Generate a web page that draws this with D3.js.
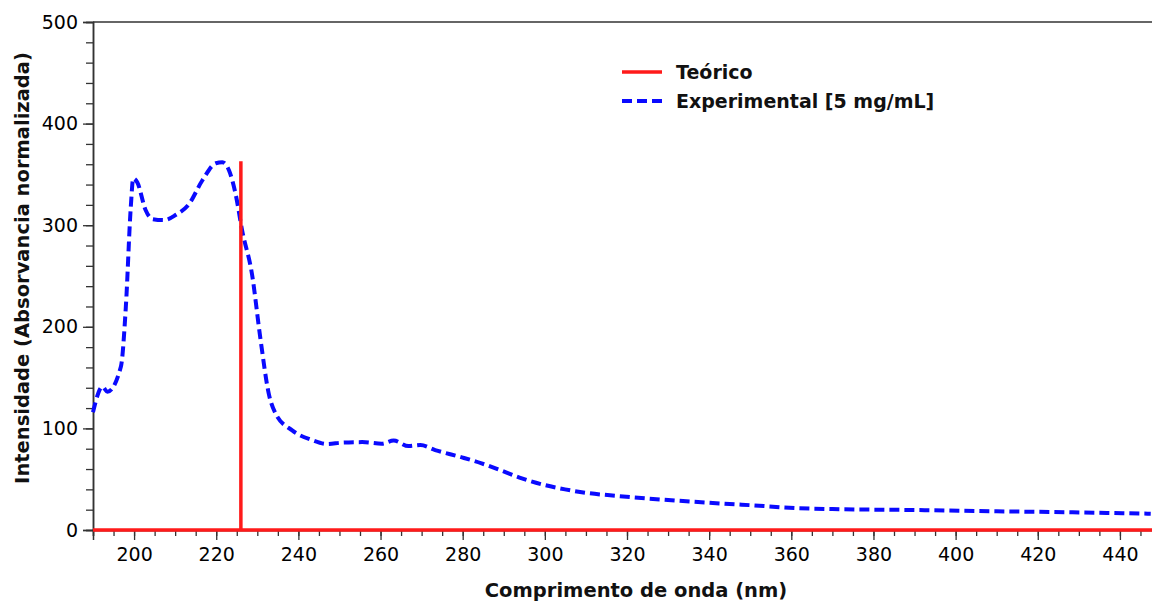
<!DOCTYPE html>
<html>
<head>
<meta charset="utf-8">
<script src="https://cdn.jsdelivr.net/npm/d3@7"></script>
<style>
  body { margin: 0; background: #fff; }
  svg { display: block; }
  .tick text { font-family: 'DejaVu Sans', sans-serif; font-size: 19px; fill: #000; }
  .title { font-family: 'DejaVu Sans', sans-serif; font-weight: bold; font-size: 19.5px; fill: #111; }
  .legend-text { font-family: 'DejaVu Sans', sans-serif; font-weight: bold; font-size: 19px; fill: #111; }
</style>
</head>
<body>
<div id="wrapper"></div>
<script>
// data
const wavelengths = [190, 192.3, 193.5, 196.8, 198, 199.2, 199.8, 200.8, 202.8, 204.5,
  207.3, 210.1, 213.4, 216.6, 219.9, 221.5, 223.1, 224.7, 226.3, 228.7,
  230.8, 232.8, 234.4, 238.5, 243.3, 247, 250.6, 255.5, 260.3, 263.2,
  266.8, 269.7, 273.3, 279.8, 284.6, 289.5, 294.4, 300, 304.9, 309.8,
  318, 330, 345, 350.6, 361, 370, 389.5, 410, 428.5, 447.5];
const experimental = [116, 141, 136, 161, 220, 318, 346, 342, 315, 306,
  305, 310, 321, 344, 361, 362, 354, 331, 295, 252,
  187, 134, 115, 98, 88.5, 84.6, 86, 86.5, 85, 88,
  82.6, 83.6, 78.7, 71.5, 65.6, 58.3, 50.8, 44.2, 40, 36.7,
  33.4, 29.5, 25.6, 24.3, 21.6, 20.6, 19.7, 18.4, 17.4, 16];
const theoreticalNm = [226];
const theoreticalValue = [363];
const legendLabels = ['Teórico', 'Experimental [5 mg/mL]'];
const xTicks = [200, 220, 240, 260, 280, 300, 320, 340, 360, 380, 400, 420, 440];
const yTicks = [0, 100, 200, 300, 400, 500];

function drawChart() {
  // 1. dimensions
  let dimensions = {
    width: 1152,
    height: 602,
    margin: { top: 22, right: -9, bottom: 72, left: 93 },
  };
  dimensions.boundedWidth = dimensions.width - dimensions.margin.left - dimensions.margin.right;
  dimensions.boundedHeight = dimensions.height - dimensions.margin.top - dimensions.margin.bottom;

  // 2. canvas
  const wrapper = d3.select('#wrapper')
    .append('svg')
    .attr('width', dimensions.width)
    .attr('height', dimensions.height);

  const bounds = wrapper.append('g')
    .attr('transform', `translate(${dimensions.margin.left},${dimensions.margin.top})`);

  // 3. scales
  const xScale = d3.scaleLinear().domain([190, 450]).range([0, dimensions.boundedWidth]);
  const yScale = d3.scaleLinear().domain([0, 500]).range([dimensions.boundedHeight, 0]);

  // 4. axes (minor ticks first, then major with labels)
  const axisColor = '#333';
  const yMinor = d3.axisLeft(yScale).tickValues(d3.range(0, 501, 20)).tickSize(7).tickFormat('');
  const yMajor = d3.axisLeft(yScale).tickValues(yTicks).tickSize(10).tickPadding(5);
  const xMinor = d3.axisBottom(xScale).tickValues(d3.range(190, 451, 5)).tickSize(6).tickFormat('');
  const xMajor = d3.axisBottom(xScale).tickValues(xTicks).tickSize(10).tickPadding(8);

  [yMinor, yMajor].forEach(ax => {
    const g = bounds.append('g').call(ax);
    g.selectAll('line').attr('stroke', axisColor).attr('stroke-width', 1.3);
    g.select('.domain').attr('stroke', axisColor).attr('stroke-width', 1.5);
  });
  [xMinor, xMajor].forEach(ax => {
    const g = bounds.append('g')
      .attr('transform', `translate(0,${dimensions.boundedHeight})`)
      .call(ax);
    g.selectAll('line').attr('stroke', axisColor).attr('stroke-width', 1.3);
    g.select('.domain').attr('stroke', axisColor).attr('stroke-width', 1.5);
  });

  // top frame line
  bounds.append('line')
    .attr('x1', 0).attr('x2', dimensions.boundedWidth)
    .attr('y1', 0).attr('y2', 0)
    .attr('stroke', axisColor).attr('stroke-width', 1.5);

  // 5. data
  const lineGenerator = d3.line()
    .x((d, i) => xScale(wavelengths[i]))
    .y(d => yScale(d))
    .curve(d3.curveMonotoneX);

  bounds.append('path')
    .attr('d', lineGenerator(experimental))
    .attr('fill', 'none')
    .attr('stroke', '#0a0aff')
    .attr('stroke-width', 4)
    .attr('stroke-dasharray', '10,5');

  // theoretical stick spectrum: baseline at zero plus one stick
  bounds.append('line')
    .attr('x1', 0).attr('x2', dimensions.boundedWidth)
    .attr('y1', yScale(0)).attr('y2', yScale(0))
    .attr('stroke', '#ff1a1a')
    .attr('stroke-width', 3.5);

  bounds.selectAll('.stick')
    .data(theoreticalNm)
    .enter()
    .append('line')
    .attr('class', 'stick')
    .attr('x1', d => xScale(d)).attr('x2', d => xScale(d))
    .attr('y1', yScale(0))
    .attr('y2', (d, i) => yScale(theoreticalValue[i]))
    .attr('stroke', '#ff1a1a')
    .attr('stroke-width', 3.5);

  // 6. peripherals
  wrapper.append('text')
    .attr('class', 'title')
    .attr('x', 636)
    .attr('y', 597)
    .attr('text-anchor', 'middle')
    .text('Comprimento de onda (nm)');

  wrapper.append('text')
    .attr('class', 'title')
    .attr('transform', 'translate(29,268) rotate(-90)')
    .attr('text-anchor', 'middle')
    .text('Intensidade (Absorvancia normalizada)');

  // legend
  const legend = wrapper.append('g').attr('transform', 'translate(622,72)');
  const legendStyles = [
    { color: '#ff1a1a', width: 3.5, dash: null },
    { color: '#0a0aff', width: 4, dash: '10,5' },
  ];
  legendLabels.forEach((label, i) => {
    const row = legend.append('g').attr('transform', `translate(0,${i * 29})`);
    row.append('line')
      .attr('x1', 0).attr('x2', 40)
      .attr('stroke', legendStyles[i].color)
      .attr('stroke-width', legendStyles[i].width)
      .attr('stroke-dasharray', legendStyles[i].dash);
    row.append('text')
      .attr('class', 'legend-text')
      .attr('x', 54)
      .attr('y', 7)
      .text(label);
  });
}
drawChart();
</script>
</body>
</html>
